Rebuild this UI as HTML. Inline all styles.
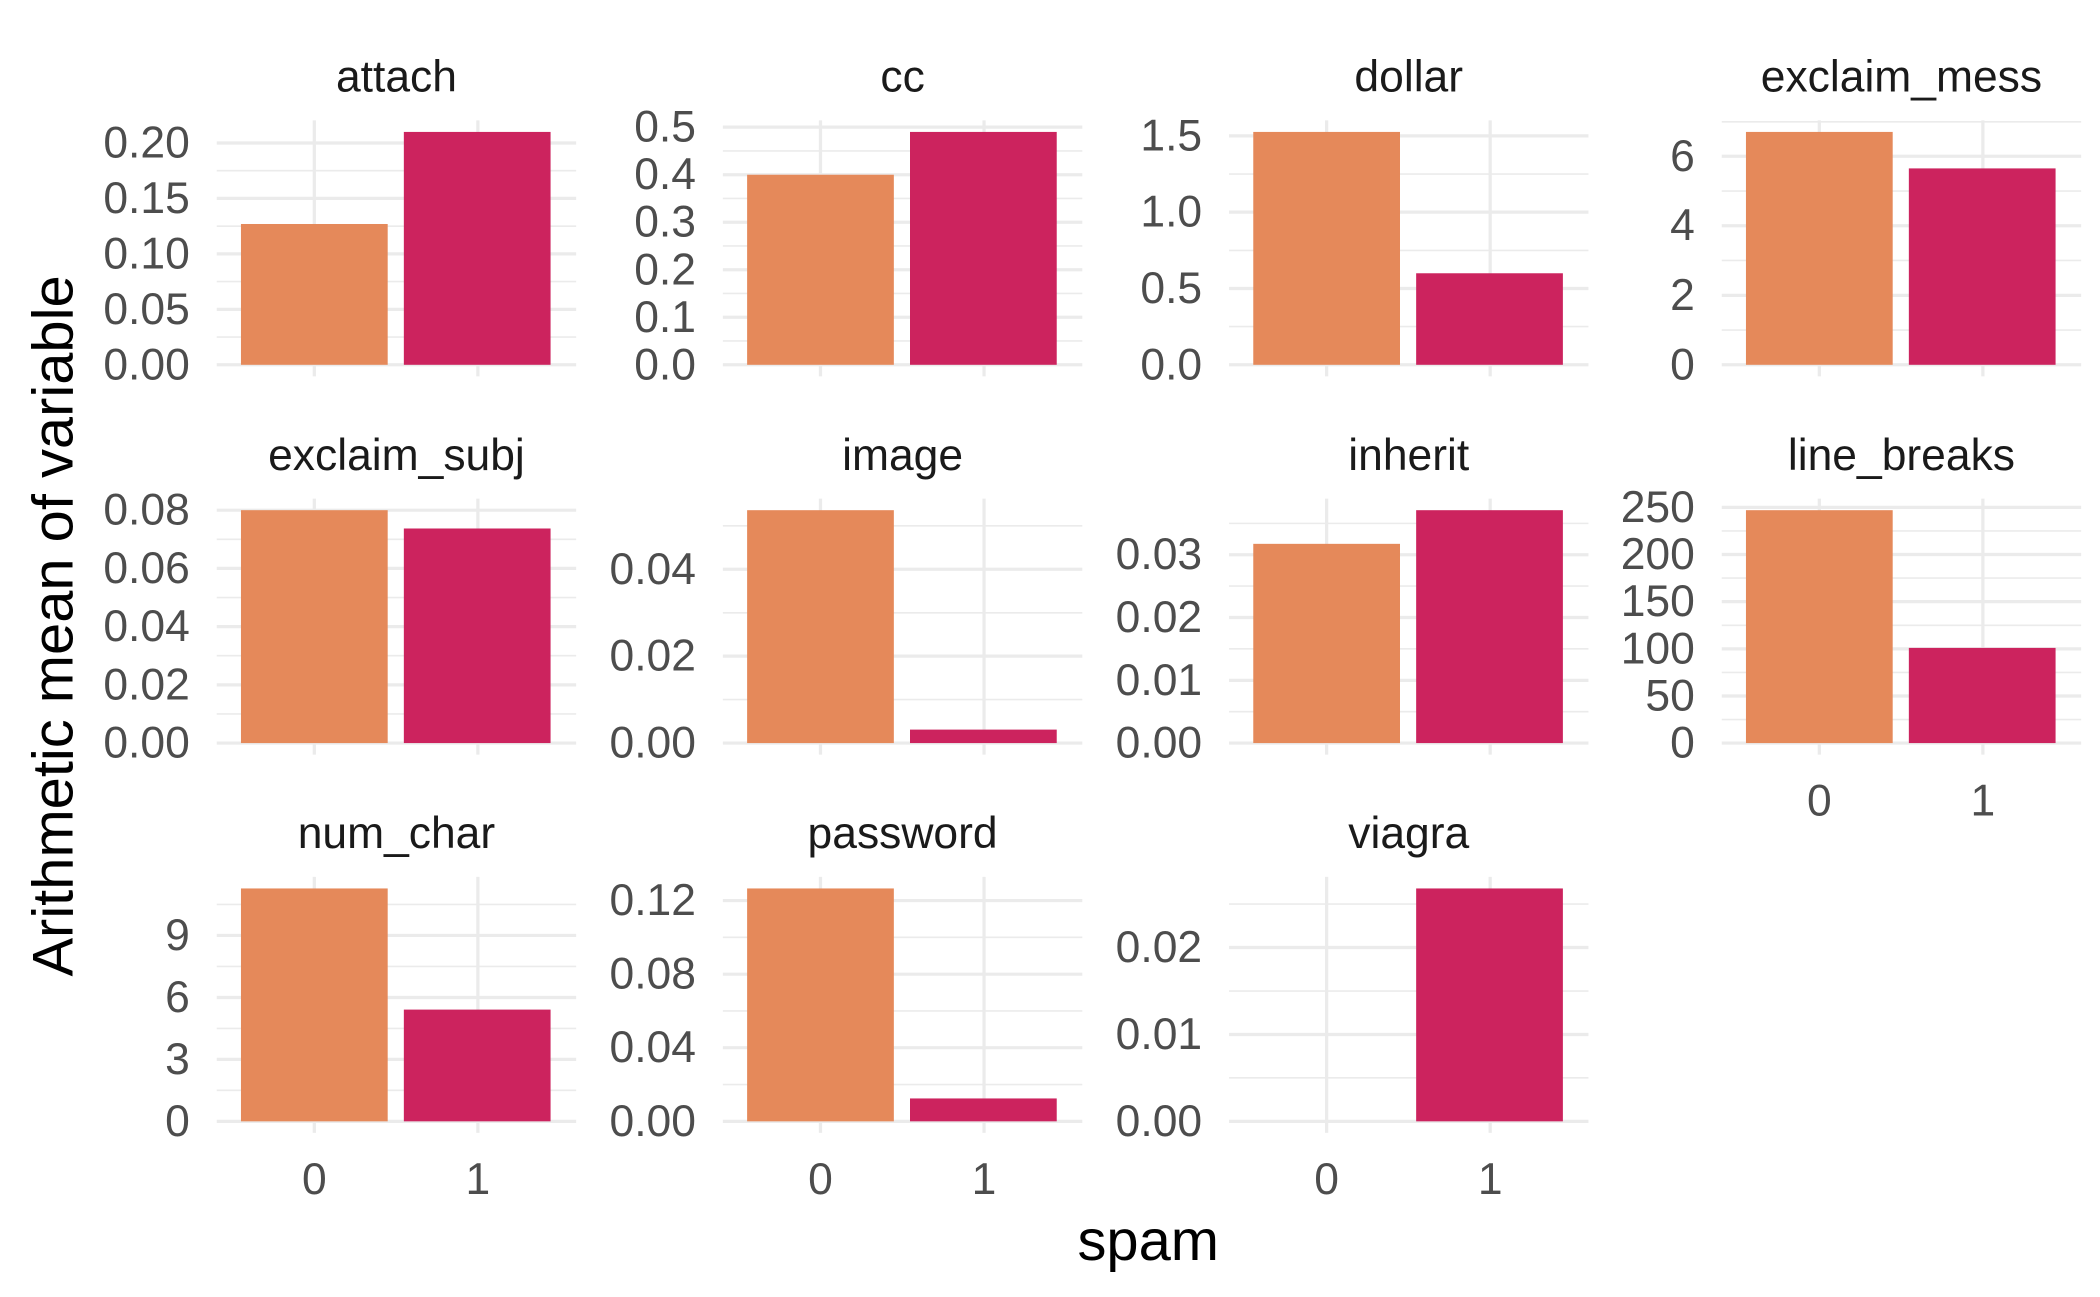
<!DOCTYPE html>
<html><head><meta charset="utf-8"><style>
html,body{margin:0;padding:0;background:#fff}
svg{display:block}
.mj{stroke:#ebebeb;stroke-width:2.4}
.mn{stroke:#ebebeb;stroke-width:1.2}
.t{font-family:"Liberation Sans",sans-serif;font-size:33px;fill:#4d4d4d;text-anchor:end;dominant-baseline:central}
.x{font-family:"Liberation Sans",sans-serif;font-size:33px;fill:#4d4d4d;text-anchor:middle}
.s{font-family:"Liberation Sans",sans-serif;font-size:33px;fill:#1a1a1a;text-anchor:middle}
.a{font-family:"Liberation Sans",sans-serif;font-size:43px;fill:#000;text-anchor:middle}
.o{fill:#E5895A}.m{fill:#CC235E}
</style></head><body>
<svg width="2100" height="1297" viewBox="0 0 1560 963.5" preserveAspectRatio="none" xmlns="http://www.w3.org/2000/svg">
<!-- P1 attach -->
<g>
<line class="mn" x1="161" x2="428" y1="250.4" y2="250.4"/><line class="mn" x1="161" x2="428" y1="209.2" y2="209.2"/><line class="mn" x1="161" x2="428" y1="168" y2="168"/><line class="mn" x1="161" x2="428" y1="126.8" y2="126.8"/>
<line class="mj" x1="161" x2="428" y1="271" y2="271"/><line class="mj" x1="161" x2="428" y1="229.8" y2="229.8"/><line class="mj" x1="161" x2="428" y1="188.6" y2="188.6"/><line class="mj" x1="161" x2="428" y1="147.4" y2="147.4"/><line class="mj" x1="161" x2="428" y1="106.2" y2="106.2"/>
<line class="mj" x1="233.5" x2="233.5" y1="89.4" y2="279.6"/><line class="mj" x1="355" x2="355" y1="89.4" y2="279.6"/>
<rect class="o" x="179" y="166.4" width="109" height="104.6"/><rect class="m" x="300" y="98" width="109" height="173"/>
<text class="t" x="141" y="271">0.00</text><text class="t" x="141" y="229.8">0.05</text><text class="t" x="141" y="188.6">0.10</text><text class="t" x="141" y="147.4">0.15</text><text class="t" x="141" y="106.2">0.20</text>
<text class="s" x="294.5" y="68">attach</text>
</g>
<!-- P2 cc -->
<g>
<line class="mn" x1="537" x2="804" y1="253.3" y2="253.3"/><line class="mn" x1="537" x2="804" y1="218" y2="218"/><line class="mn" x1="537" x2="804" y1="182.7" y2="182.7"/><line class="mn" x1="537" x2="804" y1="147.4" y2="147.4"/><line class="mn" x1="537" x2="804" y1="112.1" y2="112.1"/>
<line class="mj" x1="537" x2="804" y1="271" y2="271"/><line class="mj" x1="537" x2="804" y1="235.7" y2="235.7"/><line class="mj" x1="537" x2="804" y1="200.4" y2="200.4"/><line class="mj" x1="537" x2="804" y1="165.1" y2="165.1"/><line class="mj" x1="537" x2="804" y1="129.8" y2="129.8"/><line class="mj" x1="537" x2="804" y1="94.4" y2="94.4"/>
<line class="mj" x1="609.5" x2="609.5" y1="89.4" y2="279.6"/><line class="mj" x1="731" x2="731" y1="89.4" y2="279.6"/>
<rect class="o" x="555" y="129.8" width="109" height="141.2"/><rect class="m" x="676" y="98" width="109" height="173"/>
<text class="t" x="517" y="271">0.0</text><text class="t" x="517" y="235.7">0.1</text><text class="t" x="517" y="200.4">0.2</text><text class="t" x="517" y="165.1">0.3</text><text class="t" x="517" y="129.8">0.4</text><text class="t" x="517" y="94.4">0.5</text>
<text class="s" x="670.5" y="68">cc</text>
</g>
<!-- P3 dollar -->
<g>
<line class="mn" x1="913" x2="1180" y1="242.6" y2="242.6"/><line class="mn" x1="913" x2="1180" y1="186" y2="186"/><line class="mn" x1="913" x2="1180" y1="129.3" y2="129.3"/>
<line class="mj" x1="913" x2="1180" y1="271" y2="271"/><line class="mj" x1="913" x2="1180" y1="214.3" y2="214.3"/><line class="mj" x1="913" x2="1180" y1="157.6" y2="157.6"/><line class="mj" x1="913" x2="1180" y1="100.9" y2="100.9"/>
<line class="mj" x1="985.5" x2="985.5" y1="89.4" y2="279.6"/><line class="mj" x1="1107" x2="1107" y1="89.4" y2="279.6"/>
<rect class="o" x="931" y="98" width="109" height="173"/><rect class="m" x="1052" y="203" width="109" height="68"/>
<text class="t" x="893" y="271">0.0</text><text class="t" x="893" y="214.3">0.5</text><text class="t" x="893" y="157.6">1.0</text><text class="t" x="893" y="100.9">1.5</text>
<text class="s" x="1046.5" y="68">dollar</text>
</g>
<!-- P4 exclaim_mess -->
<g>
<line class="mn" x1="1279" x2="1546" y1="245.2" y2="245.2"/><line class="mn" x1="1279" x2="1546" y1="193.5" y2="193.5"/><line class="mn" x1="1279" x2="1546" y1="141.9" y2="141.9"/><line class="mn" x1="1279" x2="1546" y1="90.5" y2="90.5"/>
<line class="mj" x1="1279" x2="1546" y1="271" y2="271"/><line class="mj" x1="1279" x2="1546" y1="219.4" y2="219.4"/><line class="mj" x1="1279" x2="1546" y1="167.7" y2="167.7"/><line class="mj" x1="1279" x2="1546" y1="116.1" y2="116.1"/>
<line class="mj" x1="1351.5" x2="1351.5" y1="89.4" y2="279.6"/><line class="mj" x1="1473" x2="1473" y1="89.4" y2="279.6"/>
<rect class="o" x="1297" y="98" width="109" height="173"/><rect class="m" x="1418" y="125.1" width="109" height="145.9"/>
<text class="t" x="1259" y="271">0</text><text class="t" x="1259" y="219.4">2</text><text class="t" x="1259" y="167.7">4</text><text class="t" x="1259" y="116.1">6</text>
<text class="s" x="1412.5" y="68">exclaim_mess</text>
</g>
<!-- P5 exclaim_subj -->
<g>
<line class="mn" x1="161" x2="428" y1="530.4" y2="530.4"/><line class="mn" x1="161" x2="428" y1="487.1" y2="487.1"/><line class="mn" x1="161" x2="428" y1="443.9" y2="443.9"/><line class="mn" x1="161" x2="428" y1="400.6" y2="400.6"/>
<line class="mj" x1="161" x2="428" y1="552" y2="552"/><line class="mj" x1="161" x2="428" y1="508.75" y2="508.75"/><line class="mj" x1="161" x2="428" y1="465.5" y2="465.5"/><line class="mj" x1="161" x2="428" y1="422.25" y2="422.25"/><line class="mj" x1="161" x2="428" y1="379" y2="379"/>
<line class="mj" x1="233.5" x2="233.5" y1="370.4" y2="560.6"/><line class="mj" x1="355" x2="355" y1="370.4" y2="560.6"/>
<rect class="o" x="179" y="379" width="109" height="173"/><rect class="m" x="300" y="392.6" width="109" height="159.4"/>
<text class="t" x="141" y="552">0.00</text><text class="t" x="141" y="508.75">0.02</text><text class="t" x="141" y="465.5">0.04</text><text class="t" x="141" y="422.25">0.06</text><text class="t" x="141" y="379">0.08</text>
<text class="s" x="294.5" y="349">exclaim_subj</text>
</g>
<!-- P6 image -->
<g>
<line class="mn" x1="537" x2="804" y1="519.7" y2="519.7"/><line class="mn" x1="537" x2="804" y1="455.2" y2="455.2"/><line class="mn" x1="537" x2="804" y1="390.6" y2="390.6"/>
<line class="mj" x1="537" x2="804" y1="552" y2="552"/><line class="mj" x1="537" x2="804" y1="487.4" y2="487.4"/><line class="mj" x1="537" x2="804" y1="422.9" y2="422.9"/>
<line class="mj" x1="609.5" x2="609.5" y1="370.4" y2="560.6"/><line class="mj" x1="731" x2="731" y1="370.4" y2="560.6"/>
<rect class="o" x="555" y="379" width="109" height="173"/><rect class="m" x="676" y="542" width="109" height="10"/>
<text class="t" x="517" y="552">0.00</text><text class="t" x="517" y="487.4">0.02</text><text class="t" x="517" y="422.9">0.04</text>
<text class="s" x="670.5" y="349">image</text>
</g>
<!-- P7 inherit -->
<g>
<line class="mn" x1="913" x2="1180" y1="528.7" y2="528.7"/><line class="mn" x1="913" x2="1180" y1="482" y2="482"/><line class="mn" x1="913" x2="1180" y1="435.4" y2="435.4"/><line class="mn" x1="913" x2="1180" y1="388.8" y2="388.8"/>
<line class="mj" x1="913" x2="1180" y1="552" y2="552"/><line class="mj" x1="913" x2="1180" y1="505.4" y2="505.4"/><line class="mj" x1="913" x2="1180" y1="458.7" y2="458.7"/><line class="mj" x1="913" x2="1180" y1="412.1" y2="412.1"/>
<line class="mj" x1="985.5" x2="985.5" y1="370.4" y2="560.6"/><line class="mj" x1="1107" x2="1107" y1="370.4" y2="560.6"/>
<rect class="o" x="931" y="404" width="109" height="148"/><rect class="m" x="1052" y="379" width="109" height="173"/>
<text class="t" x="893" y="552">0.00</text><text class="t" x="893" y="505.4">0.01</text><text class="t" x="893" y="458.7">0.02</text><text class="t" x="893" y="412.1">0.03</text>
<text class="s" x="1046.5" y="349">inherit</text>
</g>
<!-- P8 line_breaks -->
<g>
<line class="mn" x1="1279" x2="1546" y1="534.5" y2="534.5"/><line class="mn" x1="1279" x2="1546" y1="499.5" y2="499.5"/><line class="mn" x1="1279" x2="1546" y1="464.5" y2="464.5"/><line class="mn" x1="1279" x2="1546" y1="429.4" y2="429.4"/><line class="mn" x1="1279" x2="1546" y1="394.4" y2="394.4"/>
<line class="mj" x1="1279" x2="1546" y1="552" y2="552"/><line class="mj" x1="1279" x2="1546" y1="517" y2="517"/><line class="mj" x1="1279" x2="1546" y1="482" y2="482"/><line class="mj" x1="1279" x2="1546" y1="446.9" y2="446.9"/><line class="mj" x1="1279" x2="1546" y1="411.9" y2="411.9"/><line class="mj" x1="1279" x2="1546" y1="376.9" y2="376.9"/>
<line class="mj" x1="1351.5" x2="1351.5" y1="370.4" y2="560.6"/><line class="mj" x1="1473" x2="1473" y1="370.4" y2="560.6"/>
<rect class="o" x="1297" y="379" width="109" height="173"/><rect class="m" x="1418" y="481.3" width="109" height="70.7"/>
<text class="t" x="1259" y="552">0</text><text class="t" x="1259" y="517">50</text><text class="t" x="1259" y="482">100</text><text class="t" x="1259" y="446.9">150</text><text class="t" x="1259" y="411.9">200</text><text class="t" x="1259" y="376.9">250</text>
<text class="s" x="1412.5" y="349">line_breaks</text>
<text class="x" x="1351.5" y="606">0</text><text class="x" x="1473" y="606">1</text>
</g>
<!-- P9 num_char -->
<g>
<line class="mn" x1="161" x2="428" y1="810" y2="810"/><line class="mn" x1="161" x2="428" y1="764" y2="764"/><line class="mn" x1="161" x2="428" y1="717.9" y2="717.9"/><line class="mn" x1="161" x2="428" y1="671.9" y2="671.9"/>
<line class="mj" x1="161" x2="428" y1="833" y2="833"/><line class="mj" x1="161" x2="428" y1="787" y2="787"/><line class="mj" x1="161" x2="428" y1="741" y2="741"/><line class="mj" x1="161" x2="428" y1="694.9" y2="694.9"/>
<line class="mj" x1="233.5" x2="233.5" y1="651.4" y2="841.6"/><line class="mj" x1="355" x2="355" y1="651.4" y2="841.6"/>
<rect class="o" x="179" y="660" width="109" height="173"/><rect class="m" x="300" y="750" width="109" height="83"/>
<text class="t" x="141" y="833">0</text><text class="t" x="141" y="787">3</text><text class="t" x="141" y="741">6</text><text class="t" x="141" y="694.9">9</text>
<text class="s" x="294.5" y="630">num_char</text>
<text class="x" x="233.5" y="887">0</text><text class="x" x="355" y="887">1</text>
</g>
<!-- P10 password -->
<g>
<line class="mn" x1="537" x2="804" y1="805.7" y2="805.7"/><line class="mn" x1="537" x2="804" y1="751" y2="751"/><line class="mn" x1="537" x2="804" y1="696.3" y2="696.3"/>
<line class="mj" x1="537" x2="804" y1="833" y2="833"/><line class="mj" x1="537" x2="804" y1="778.3" y2="778.3"/><line class="mj" x1="537" x2="804" y1="723.7" y2="723.7"/><line class="mj" x1="537" x2="804" y1="669" y2="669"/>
<line class="mj" x1="609.5" x2="609.5" y1="651.4" y2="841.6"/><line class="mj" x1="731" x2="731" y1="651.4" y2="841.6"/>
<rect class="o" x="555" y="660" width="109" height="173"/><rect class="m" x="676" y="816" width="109" height="17"/>
<text class="t" x="517" y="833">0.00</text><text class="t" x="517" y="778.3">0.04</text><text class="t" x="517" y="723.7">0.08</text><text class="t" x="517" y="669">0.12</text>
<text class="s" x="670.5" y="630">password</text>
<text class="x" x="609.5" y="887">0</text><text class="x" x="731" y="887">1</text>
</g>
<!-- P11 viagra -->
<g>
<line class="mn" x1="913" x2="1180" y1="800.7" y2="800.7"/><line class="mn" x1="913" x2="1180" y1="736.2" y2="736.2"/><line class="mn" x1="913" x2="1180" y1="671.6" y2="671.6"/>
<line class="mj" x1="913" x2="1180" y1="833" y2="833"/><line class="mj" x1="913" x2="1180" y1="768.5" y2="768.5"/><line class="mj" x1="913" x2="1180" y1="703.9" y2="703.9"/>
<line class="mj" x1="985.5" x2="985.5" y1="651.4" y2="841.6"/><line class="mj" x1="1107" x2="1107" y1="651.4" y2="841.6"/>
<rect class="m" x="1052" y="660" width="109" height="173"/>
<text class="t" x="893" y="833">0.00</text><text class="t" x="893" y="768.5">0.01</text><text class="t" x="893" y="703.9">0.02</text>
<text class="s" x="1046.5" y="630">viagra</text>
<text class="x" x="985.5" y="887">0</text><text class="x" x="1107" y="887">1</text>
</g>
<text class="a" x="853" y="936">spam</text>
<text class="a" transform="translate(54,465) rotate(-90)">Arithmetic mean of variable</text>
</svg>
</body></html>
